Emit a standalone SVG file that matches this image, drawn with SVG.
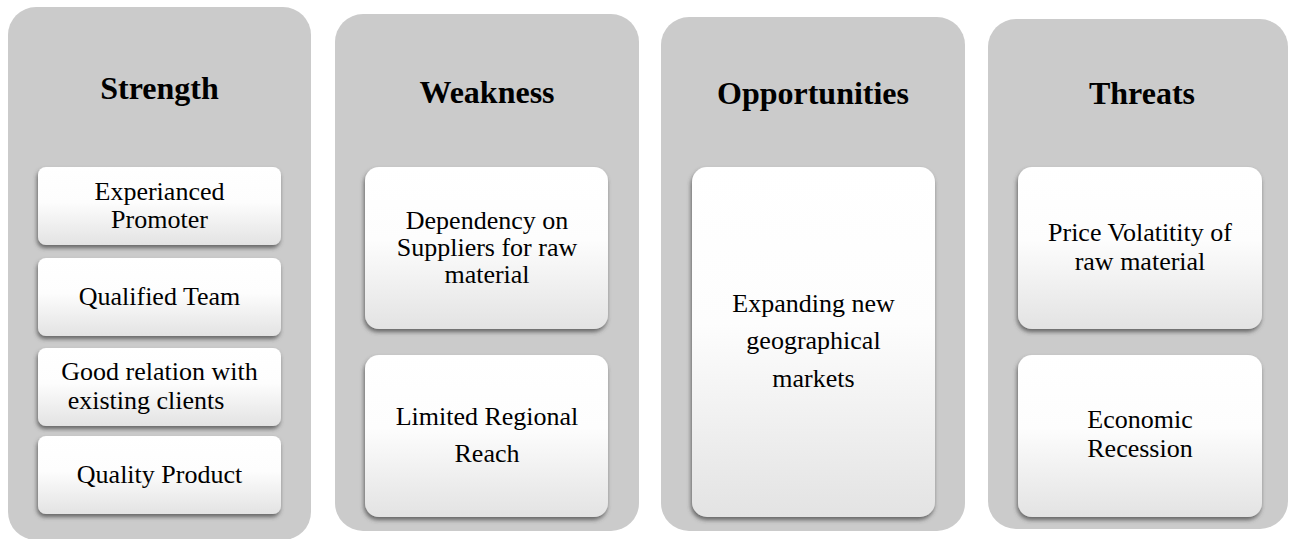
<svg xmlns="http://www.w3.org/2000/svg" width="1290" height="539" viewBox="0 0 1290 539">
<defs>
<linearGradient id="g" x1="0" y1="0" x2="0" y2="1">
<stop offset="0" stop-color="#ffffff"/>
<stop offset="0.45" stop-color="#fdfdfd"/>
<stop offset="1" stop-color="#e3e3e3"/>
</linearGradient>
<filter id="sh" x="-10%" y="-10%" width="120%" height="125%">
<feDropShadow dx="-1" dy="3" stdDeviation="2" flood-color="#444" flood-opacity="0.75"/>
</filter>
<style>
.panel{fill:#cbcbcb}
.box{fill:url(#g);filter:url(#sh)}
.title{font-family:"Liberation Serif",serif;font-weight:bold;font-size:32px;fill:#000;text-anchor:middle}
.t{font-family:"Liberation Serif",serif;font-size:26px;fill:#000;text-anchor:middle}
</style>
</defs>
<g id="strength">
<rect class="panel" x="8" y="7" width="303" height="533" rx="28"/>
<text class="title" x="159.5" y="99">Strength</text>
<g id="s1"><rect class="box" x="38" y="167" width="243" height="78" rx="8"/>
<text class="t" x="159.5" y="200">Experianced</text><text class="t" x="159.5" y="228">Promoter</text></g>
<g id="s2"><rect class="box" x="38" y="258" width="243" height="78" rx="8"/>
<text class="t" x="159.5" y="305">Qualified Team</text></g>
<g id="s3"><rect class="box" x="38" y="348" width="243" height="78" rx="8"/>
<text class="t" x="159.5" y="380">Good relation with</text><text class="t" x="146" y="409">existing clients</text></g>
<g id="s4"><rect class="box" x="38" y="436" width="243" height="78" rx="8"/>
<text class="t" x="159.5" y="483">Quality Product</text></g>
</g>
<g id="weakness">
<rect class="panel" x="335" y="14" width="304" height="517" rx="28"/>
<text class="title" x="487" y="103">Weakness</text>
<g id="w1"><rect class="box" x="365" y="167" width="243" height="162" rx="14"/>
<text class="t" x="487" y="229">Dependency on</text><text class="t" x="487" y="256">Suppliers for raw</text><text class="t" x="487" y="283">material</text></g>
<g id="w2"><rect class="box" x="365" y="355" width="243" height="162" rx="14"/>
<text class="t" x="487" y="425">Limited Regional</text><text class="t" x="487" y="462">Reach</text></g>
</g>
<g id="opportunities">
<rect class="panel" x="661" y="17" width="304" height="514" rx="28"/>
<text class="title" x="813" y="104">Opportunities</text>
<g id="o1"><rect class="box" x="692" y="167" width="243" height="350" rx="15"/>
<text class="t" x="813.5" y="312">Expanding new</text><text class="t" x="813.5" y="349">geographical</text><text class="t" x="813.5" y="387">markets</text></g>
</g>
<g id="threats">
<rect class="panel" x="988" y="19" width="300" height="510" rx="28"/>
<text class="title" x="1142" y="104">Threats</text>
<g id="t1"><rect class="box" x="1018" y="167" width="244" height="162" rx="14"/>
<text class="t" x="1140" y="241">Price Volatitity of</text><text class="t" x="1140" y="270">raw material</text></g>
<g id="t2"><rect class="box" x="1018" y="355" width="244" height="162" rx="14"/>
<text class="t" x="1140" y="428">Economic</text><text class="t" x="1140" y="457">Recession</text></g>
</g>
<g id="connectors"/>
</svg>
